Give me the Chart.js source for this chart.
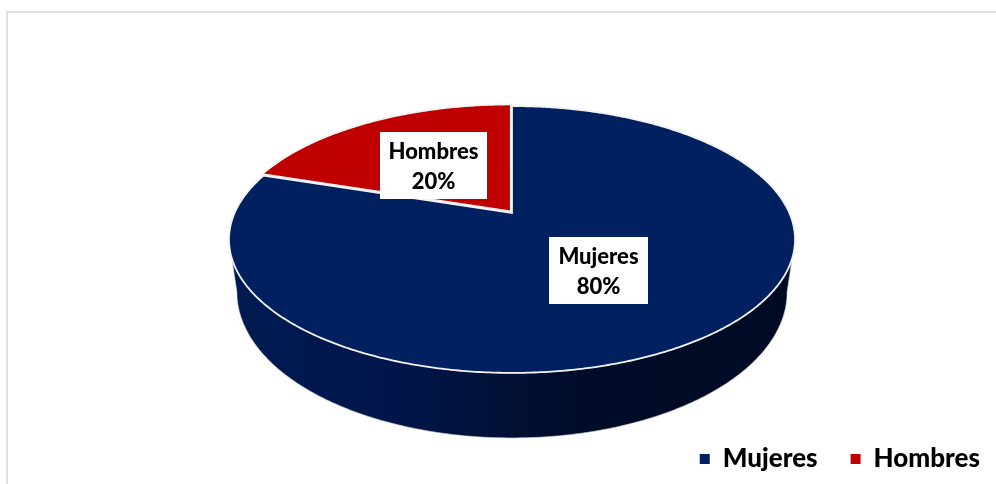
<!DOCTYPE html>
<html>
<head>
<meta charset="utf-8">
<title>Mujeres y Hombres</title>
<script src="https://cdn.jsdelivr.net/npm/chart.js@4"></script>
<style>
  html, body { margin: 0; padding: 0; background: #fff; }
  #wrap { position: relative; width: 996px; height: 484px; overflow: hidden; }
  #frame { position: absolute; left: 6px; top: 11px; right: -4px; bottom: -4px; border-left: 2px solid #e0e0e0; border-top: 2px solid #e0e0e0; }
  canvas { position: absolute; left: 0; top: 0; }
</style>
</head>
<body>
<div id="wrap">
  <div id="frame"></div>
  <canvas id="pie_graph" width="996" height="484"></canvas>
</div>
<script>
const categories = ['Mujeres', 'Hombres'];
const percents = [80, 20];
const sliceColors = ['#002060', '#C00000'];

// perspective of the 3D pie, in screen pixels
const view = { x: 512, y: 213, radius: 277.4, tilt: 0.462, persp: 0.1985 };
// lower rim of the side wall
const rim = { drop: 50, scaleX: 0.972, scaleY: 1.094 };

// white boxes behind the data labels (centre and size)
const labelBoxes = [
  { x: 598.5, y: 270.5, w: 99, h: 67 },
  { x: 433.5, y: 165.5, w: 107, h: 67 }
];

const labelFont = '900 22px Lato';

function project(angle, down) {
  const u = Math.cos(angle), v = Math.sin(angle);
  const w = 1 - view.persp * v;
  return {
    x: view.x + (down ? rim.scaleX : 1) * view.radius * u / w,
    y: view.y + (down ? rim.drop : 0) + (down ? rim.scaleY : 1) * view.radius * view.tilt * v / w
  };
}

function addArc(ctx, from, to, down) {
  const steps = Math.max(2, Math.ceil(Math.abs(to - from) / 0.01));
  for (let i = 0; i <= steps; i++) {
    const p = project(from + (to - from) * i / steps, down);
    ctx.lineTo(p.x, p.y);
  }
}

class Arc3D extends Chart.ArcElement {
  static id = 'arc3d';

  draw(ctx) {
    const o = this.options;
    const mid = (this.startAngle + this.endAngle) / 2;
    const fix = (o.offset || 0) / 4;

    ctx.save();
    ctx.translate(Math.cos(mid) * fix, Math.sin(mid) * fix);

    // side wall, only for the part of the rim that faces the viewer
    const edge = Math.asin(view.persp);
    const from = Math.max(this.startAngle, edge);
    const to = Math.min(this.endAngle, Math.PI - edge);
    if (to > from) {
      const side = ctx.createLinearGradient(230, 0, 794, 0);
      side.addColorStop(0, '#001a52');
      side.addColorStop(0.3, '#00164a');
      side.addColorStop(0.5, '#001034');
      side.addColorStop(0.64, '#000c28');
      side.addColorStop(1, '#000a24');
      ctx.beginPath();
      addArc(ctx, from, to, true);
      addArc(ctx, to, from, false);
      ctx.closePath();
      ctx.fillStyle = side;
      ctx.fill();
      ctx.strokeStyle = '#d4d4d4';
      ctx.lineWidth = 0.6;
      ctx.stroke();
    }

    // top face
    ctx.beginPath();
    ctx.moveTo(view.x, view.y);
    addArc(ctx, this.startAngle, this.endAngle, false);
    ctx.closePath();
    ctx.fillStyle = o.backgroundColor;
    ctx.fill();
    ctx.strokeStyle = o.borderColor;
    ctx.lineWidth = o.borderWidth;
    ctx.lineJoin = 'miter';
    ctx.stroke();
    ctx.restore();
  }
}

class Pie3D extends Chart.PieController {
  static id = 'pie3d';
  static defaults = { dataElementType: 'arc3d' };
}

Chart.register(Arc3D, Pie3D);

const dataLabels = {
  id: 'dataLabels',
  afterDatasetsDraw(chart) {
    const ctx = chart.ctx;
    ctx.save();
    ctx.font = labelFont;
    ctx.textAlign = 'center';
    ctx.textBaseline = 'alphabetic';
    categories.forEach((name, i) => {
      const b = labelBoxes[i];
      ctx.fillStyle = '#fff';
      ctx.fillRect(b.x - b.w / 2, b.y - b.h / 2, b.w, b.h);
      ctx.fillStyle = '#000';
      ctx.fillText(name, b.x, b.y - 7);
      ctx.fillText(percents[i] + '%', b.x, b.y + 23);
    });
    ctx.restore();
  }
};

const ctx = document.getElementById('pie_graph').getContext('2d');

const chart = new Chart(ctx, {
  type: 'pie3d',
  data: {
    labels: categories,
    datasets: [{
      data: percents,
      backgroundColor: sliceColors,
      borderColor: '#f2f2f2',
      borderWidth: 1.8,
      offset: [0, 8],
      clip: false
    }]
  },
  options: {
    responsive: false,
    animation: false,
    radius: view.radius,
    layout: { padding: { right: -17, bottom: 2 } },
    plugins: {
      tooltip: { enabled: false },
      legend: {
        position: 'bottom',
        align: 'end',
        labels: {
          boxWidth: 10,
          boxHeight: 10,
          padding: 33,
          color: '#000',
          font: { family: 'Lato', weight: '900', size: 26 },
          generateLabels: () => categories.map((text, i) => ({
            text, fillStyle: sliceColors[i], strokeStyle: sliceColors[i], lineWidth: 0, index: i, hidden: false
          }))
        }
      }
    }
  },
  plugins: [dataLabels]
});
</script>
</body>
</html>
